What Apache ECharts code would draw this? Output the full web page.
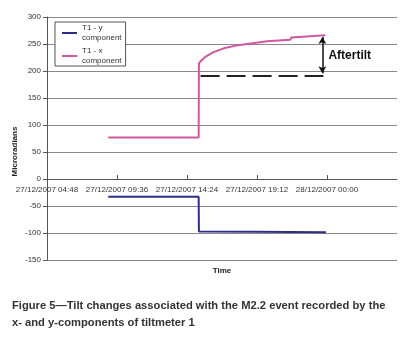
<!DOCTYPE html>
<html>
<head>
<meta charset="utf-8">
<script src="https://cdn.jsdelivr.net/npm/echarts@6/dist/echarts.min.js"></script>
<style>
  html, body { margin: 0; padding: 0; background: #fff; }
  #chart { width: 406px; height: 338px; }
</style>
</head>
<body>
<div id="chart"></div>
<script>
// times on 27/12/2007 (hh:mm), values in microradians
const xTimes = ['09:00', '15:12', '15:13', '15:22', '15:39', '16:13', '16:55', '17:45', '18:31', '19:54', '21:29', '21:33', '23:53'];
const xValues = [77, 77, 214, 219, 226, 235, 242, 247, 250, 255, 258, 262, 266];
const yTimes = ['09:00', '15:12', '15:13', '19:00', '23:56'];
const yValues = [-33, -33, -97, -97.5, -98.5];

// aftertilt annotation: baseline level and arrow span
const baseTimes = ['15:20', '23:45'];
const baseLevel = 192;
const arrowTime = '23:41';
const arrowSpan = [196, 263];
const labelLevel = 228;

const FONT = '"Liberation Sans", Arial, sans-serif';

function ms(hm) {
  const [h, m] = hm.split(':').map(Number);
  return Date.UTC(2007, 11, 27, h, m);
}
function pad(n) { return String(n).padStart(2, '0'); }
function fmt(v) {
  const d = new Date(v);
  return pad(d.getUTCDate()) + '/' + pad(d.getUTCMonth() + 1) + '/' + d.getUTCFullYear() + ' ' +
    pad(d.getUTCHours()) + ':' + pad(d.getUTCMinutes());
}

const xMin = Date.UTC(2007, 11, 27, 4, 48);
const xMax = Date.UTC(2007, 11, 28, 4, 48);
const step = 4.8 * 3600 * 1000;

const chart = echarts.init(document.getElementById('chart'));

chart.setOption({
  backgroundColor: '#fff',
  animation: false,
  textStyle: { fontFamily: FONT },
  title: {
    text: 'Figure 5\u2014Tilt changes associated with the M2.2 event recorded by the\nx- and y-components of tiltmeter 1',
    left: 12, top: 297, padding: 0,
    textStyle: { fontSize: 11.2, fontWeight: 'bold', color: '#333', lineHeight: 17.5, fontFamily: FONT }
  },
  legend: {
    orient: 'vertical',
    left: 55, top: 22,
    padding: [2, 4, 1, 7],
    itemGap: 5,
    itemWidth: 15, itemHeight: 2,
    icon: 'rect',
    borderColor: '#555', borderWidth: 1, backgroundColor: '#fff',
    formatter: (n) => n + '\ncomponent',
    textStyle: { fontSize: 8, color: '#333', lineHeight: 10, padding: [0, 0, -10, 0] },
    data: ['T1 - y', 'T1 - x']
  },
  grid: { left: 47, right: 9, top: 17, bottom: 78, outerBoundsMode: 'none', containLabel: false },
  xAxis: {
    type: 'value',
    min: xMin, max: xMax, interval: step,
    offset: -81,
    name: 'Time', nameLocation: 'middle', nameGap: 88,
    nameTextStyle: { fontSize: 8, fontWeight: 'bold', color: '#222' },
    axisLine: { onZero: false, lineStyle: { color: '#555' } },
    axisTick: { inside: true, length: 4, lineStyle: { color: '#555' } },
    axisLabel: { formatter: fmt, fontSize: 8, color: '#333', margin: 7, showMaxLabel: false },
    splitLine: { show: false }
  },
  yAxis: {
    type: 'value',
    min: -150, max: 300, interval: 50,
    name: 'Microradians', nameLocation: 'middle', nameGap: 28, nameMoveOverlap: false,
    nameTextStyle: { fontSize: 8, fontWeight: 'bold', color: '#222', padding: [0, 26, 0, 0] },
    axisLine: { show: true, lineStyle: { color: '#555' } },
    axisTick: { show: true, length: 4, lineStyle: { color: '#555' } },
    axisLabel: { fontSize: 8, color: '#333', margin: 6 },
    splitLine: { lineStyle: { color: '#888', width: 1 } }
  },
  series: [
    {
      name: 'T1 - y', type: 'line', symbol: 'none',
      data: yTimes.map((t, i) => [ms(t), yValues[i]]),
      lineStyle: { color: '#2e2e8a', width: 2 }, itemStyle: { color: '#2e2e8a' }
    },
    {
      name: 'T1 - x', type: 'line', symbol: 'none',
      data: xTimes.map((t, i) => [ms(t), xValues[i]]),
      lineStyle: { color: '#d4569f', width: 2 }, itemStyle: { color: '#d4569f' },
      markLine: {
        silent: true, animation: false,
        label: { show: false },
        data: [
          [
            { coord: [ms(baseTimes[0]), baseLevel], symbol: 'none', lineStyle: { type: [19, 7], color: '#222', width: 2 } },
            { coord: [ms(baseTimes[1]), baseLevel], symbol: 'none' }
          ],
          [
            { coord: [ms(arrowTime), arrowSpan[0]], symbol: 'arrow', symbolSize: [6, 7], lineStyle: { type: 'solid', color: '#111', width: 1.5 } },
            { coord: [ms(arrowTime), arrowSpan[1]], symbol: 'arrow', symbolSize: [6, 7] }
          ]
        ]
      },
      markPoint: {
        silent: true, animation: false,
        data: [{
          coord: [ms(arrowTime), labelLevel], symbol: 'circle', symbolSize: 0,
          label: { show: true, position: 'right', distance: 6, formatter: 'Aftertilt', fontSize: 12, fontWeight: 'bold', color: '#111' }
        }]
      }
    }
  ]
});
</script>
</body>
</html>
